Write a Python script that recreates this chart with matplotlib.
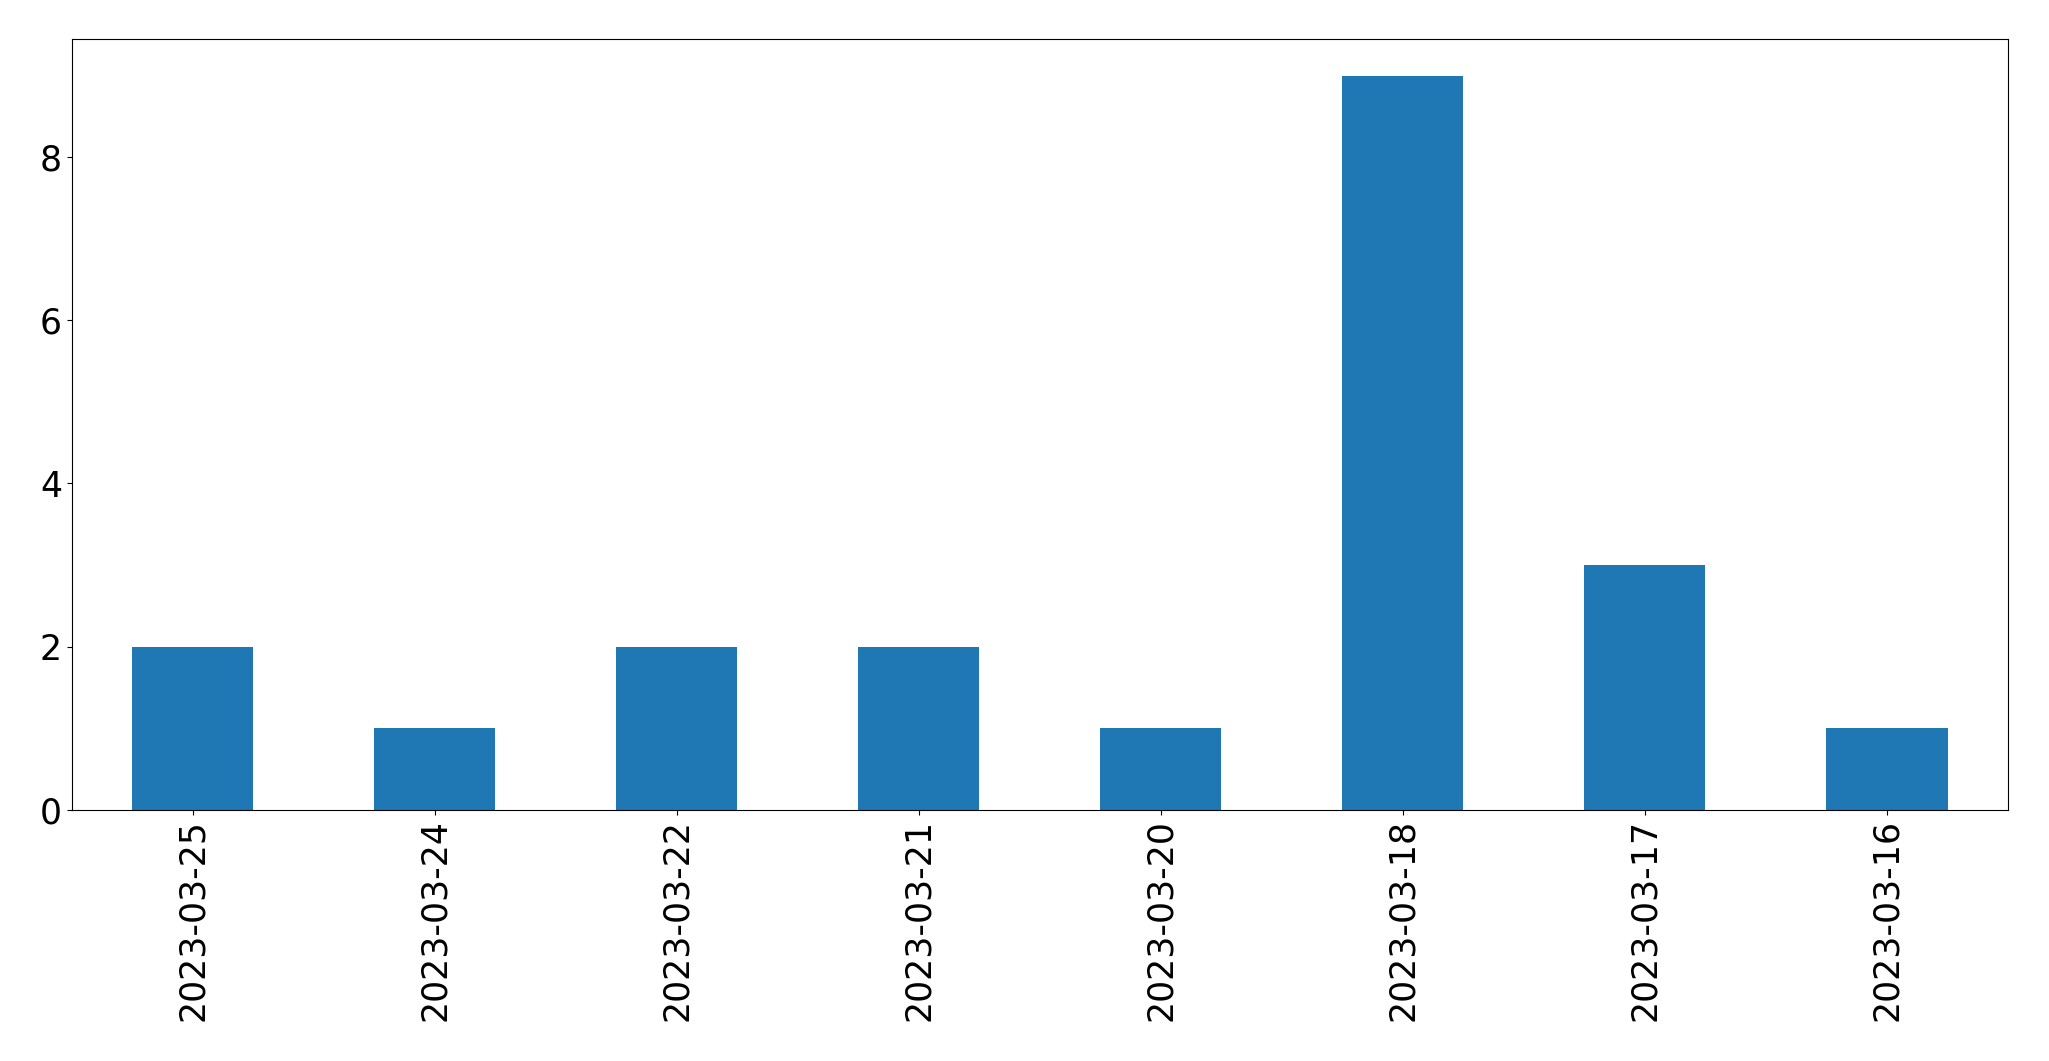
import matplotlib
matplotlib.use("Agg")
import matplotlib.pyplot as plt
import pandas as pd

# counts per day, in the order shown
dates = ["2023-03-25", "2023-03-24", "2023-03-22", "2023-03-21",
         "2023-03-20", "2023-03-18", "2023-03-17", "2023-03-16"]
counts = [2, 1, 2, 2, 1, 9, 3, 1]

s = pd.Series(counts, index=dates)

fig, ax = plt.subplots(figsize=(20.49, 10.61), dpi=100)
s.plot(kind="bar", ax=ax, color="#1f77b4")
ax.tick_params(axis="both", labelsize=25)
fig.subplots_adjust(left=0.035, right=0.98, top=0.963, bottom=0.237)
fig.savefig("out.png", dpi=100)
